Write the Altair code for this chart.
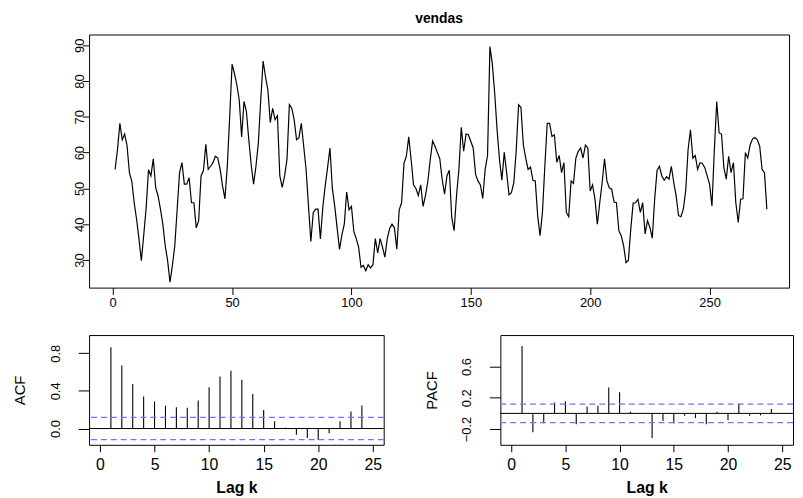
import altair as alt
import pandas as pd

FONT = "Liberation Sans"

vendas = [
    55.3, 60.8, 68.2, 63.6, 65.2, 62.0, 54.4, 52.0, 46.0, 41.4,
    35.9, 29.8, 37.0, 44.5, 55.2, 53.5, 58.3, 50.2, 47.9, 44.2,
    40.0, 34.0, 29.8, 23.8, 28.5, 34.0, 44.2, 54.4, 57.2, 51.2,
    51.2, 53.0, 46.0, 46.0, 39.0, 41.0, 53.5, 55.0, 62.3, 55.3,
    56.2, 57.2, 59.0, 58.5, 55.3, 50.7,
    47.1, 56.2, 70.0, 84.7, 82.1, 78.9, 74.7, 64.4, 74.3, 71.5,
    63.6, 56.7, 51.2, 56.2, 62.7, 74.7, 85.6, 81.2, 77.5, 68.4,
    72.4, 69.2, 70.3, 53.5, 50.3, 53.5, 58.1, 73.4, 72.4, 69.2,
    63.6, 64.1, 68.2, 61.8, 55.3, 45.1, 35.2, 43.3, 44.2, 44.2,
    35.9, 44.7, 50.7, 55.8, 61.3, 50.0, 45.0, 39.0, 33.0, 37.0,
    40.0, 49.0, 44.0, 45.0, 38.0, 36.0, 33.6, 28.0, 28.5, 27.0,
    28.7, 27.8, 28.7, 36.0, 32.0, 36.0, 33.6, 30.8, 36.0, 38.8,
    40.0, 39.0, 33.0, 44.0, 46.0, 57.0, 59.0, 64.4, 58.0, 51.0,
    50.0, 48.0, 51.0, 45.0, 48.0, 52.0, 58.0, 63.3, 61.8, 60.0,
    58.3, 52.5, 48.4, 53.5, 55.1, 41.9, 38.2, 47.9, 55.3, 67.1,
    60.4, 65.2, 65.0, 63.1, 61.3, 53.9, 52.1, 51.0, 47.2, 55.3,
    59.2, 89.6, 84.8, 76.6, 66.4, 58.1, 52.3, 60.1, 54.4, 48.2,
    48.8, 51.6, 60.4, 73.4, 72.6, 62.2, 58.5, 55.3, 56.0, 52.3,
    52.1, 42.4, 36.8, 43.3, 56.2, 68.2, 68.2, 64.5, 65.0, 57.3,
    59.2, 54.4, 57.2, 43.3, 42.1, 52.1, 51.4, 58.5, 60.4, 61.3,
    58.5, 62.1, 61.3, 49.3, 51.0, 47.0, 40.0, 46.0, 51.6, 58.3,
    52.1, 50.2, 49.8, 46.2, 46.0, 38.2, 36.8, 34.0, 29.3, 29.9,
    38.7, 45.9, 46.0, 47.0, 43.3, 46.0, 37.3, 41.0, 39.1, 36.1,
    47.0, 55.0, 56.2, 53.5, 52.3, 53.3, 52.6, 56.2, 51.6, 47.9,
    42.4, 42.1, 44.2, 49.3, 60.8, 66.4, 58.5, 59.2, 55.3, 57.2,
    57.0, 55.8, 53.5, 51.2, 45.1, 60.8, 74.3, 65.5, 65.2, 55.8,
    52.6, 59.0, 54.4, 57.2, 46.0, 40.5, 47.0, 47.1, 60.0, 58.5,
    62.2, 63.8, 64.2, 63.6, 61.8, 55.3, 54.4, 44.2,
]
tempo = list(range(1, len(vendas) + 1))

lags = list(range(1, 25))
acf_vals = [0.863, 0.670, 0.474, 0.340, 0.288, 0.242, 0.225, 0.220, 0.298, 0.439,
            0.554, 0.614, 0.519, 0.368, 0.196, 0.077, 0.010, -0.067, -0.100, -0.123,
            -0.049, 0.077, 0.182, 0.246]
pacf_vals = [0.863, -0.240, -0.126, 0.139, 0.156, -0.139, 0.088, 0.097, 0.332, 0.269,
             0.021, -0.008, -0.316, -0.097, -0.130, -0.030, -0.059, -0.139, 0.021, -0.084,
             0.126, -0.030, -0.025, 0.055]
conf_limits = [0.118, -0.118]
zero_level = [0.0]

main_ticks = [0, 50, 100, 150, 200, 250]
main_yticks = [30, 40, 50, 60, 70, 80, 90]
lag_ticks = [0, 5, 10, 15, 20, 25]
acf_yticks = [0.0, 0.4, 0.8]
pacf_yticks = [-0.2, 0.2, 0.6]

main_df = pd.DataFrame({"t": tempo, "v": vendas})
acf_df = pd.DataFrame({"lag": lags, "acf": acf_vals})
pacf_df = pd.DataFrame({"lag": lags, "pacf": pacf_vals})
conf_df = pd.DataFrame({"c": conf_limits})
zero_df = pd.DataFrame({"z": zero_level})

ax_common = dict(domain=False, grid=False, tickColor="black",
                 labelColor="black", labelFont=FONT, titleColor="black", titleFont=FONT)

main = alt.Chart(main_df).mark_line(color="black", strokeWidth=1.2).encode(
    x=alt.X("t:Q", scale=alt.Scale(domain=[-9.9, 283.3], nice=False, zero=False),
            axis=alt.Axis(values=main_ticks, title=None, labelFontSize=13, labelPadding=2,
                          tickSize=7, **ax_common)),
    y=alt.Y("v:Q", scale=alt.Scale(domain=[22.3, 93.0], nice=False, zero=False),
            axis=alt.Axis(values=main_yticks, title=None, labelFontSize=13, labelAngle=270,
                          labelAlign="center", labelBaseline="middle", labelPadding=3,
                          tickSize=7, **ax_common)),
).properties(width=708, height=256,
             title=alt.TitleParams("vendas", font=FONT, fontSize=14, fontWeight="bold",
                                   color="black", offset=9))


def corr_panel(df, field, ytitle, ydomain, yticks, width):
    xs = alt.Scale(domain=[-1, 26], nice=False, zero=False)
    ys = alt.Scale(domain=ydomain, nice=False, zero=False)
    xaxis = alt.Axis(values=lag_ticks, title="Lag k", labelFontSize=16, titleFontSize=16,
                     titleFontWeight="bold", labelPadding=5, titlePadding=7, tickSize=7,
                     **ax_common)
    yaxis = alt.Axis(values=yticks, format=".1f", title=ytitle, labelFontSize=13, titleFontSize=15,
                     titleFontWeight="normal", labelAngle=270, labelAlign="center",
                     labelBaseline="bottom", labelPadding=16, titlePadding=22, tickSize=11,
                     **ax_common)
    bars = alt.Chart(df).mark_rule(color="black", strokeWidth=1.1).encode(
        x=alt.X("lag:Q", scale=xs, axis=xaxis),
        y=alt.Y(f"{field}:Q", scale=ys, axis=yaxis),
        y2=alt.datum(0),
    )
    zero = alt.Chart(zero_df).mark_rule(color="black", strokeWidth=1).encode(
        y=alt.Y("z:Q", scale=ys)
    )
    conf = alt.Chart(conf_df).mark_rule(color="#7373ff", strokeWidth=1.2,
                                        strokeDash=[6, 4]).encode(
        y=alt.Y("c:Q", scale=ys)
    )
    return alt.layer(bars, zero, conf).properties(width=width, height=111)


acf_chart = corr_panel(acf_df, "acf", "ACF", [-0.173, 0.993], acf_yticks, 298)
pacf_chart = corr_panel(pacf_df, "pacf", "PACF", [-0.402, 1.002], pacf_yticks, 296)

bottom = alt.hconcat(acf_chart, pacf_chart, spacing=118, bounds="flush")

chart = alt.vconcat(main, bottom, spacing=48, bounds="flush").properties(
    padding={"left": 4, "top": 0, "right": 0, "bottom": 0},
    background="white",
).configure_view(stroke="black", strokeWidth=1)

chart.save("out.html", embed_options={"renderer": "svg", "actions": False})
